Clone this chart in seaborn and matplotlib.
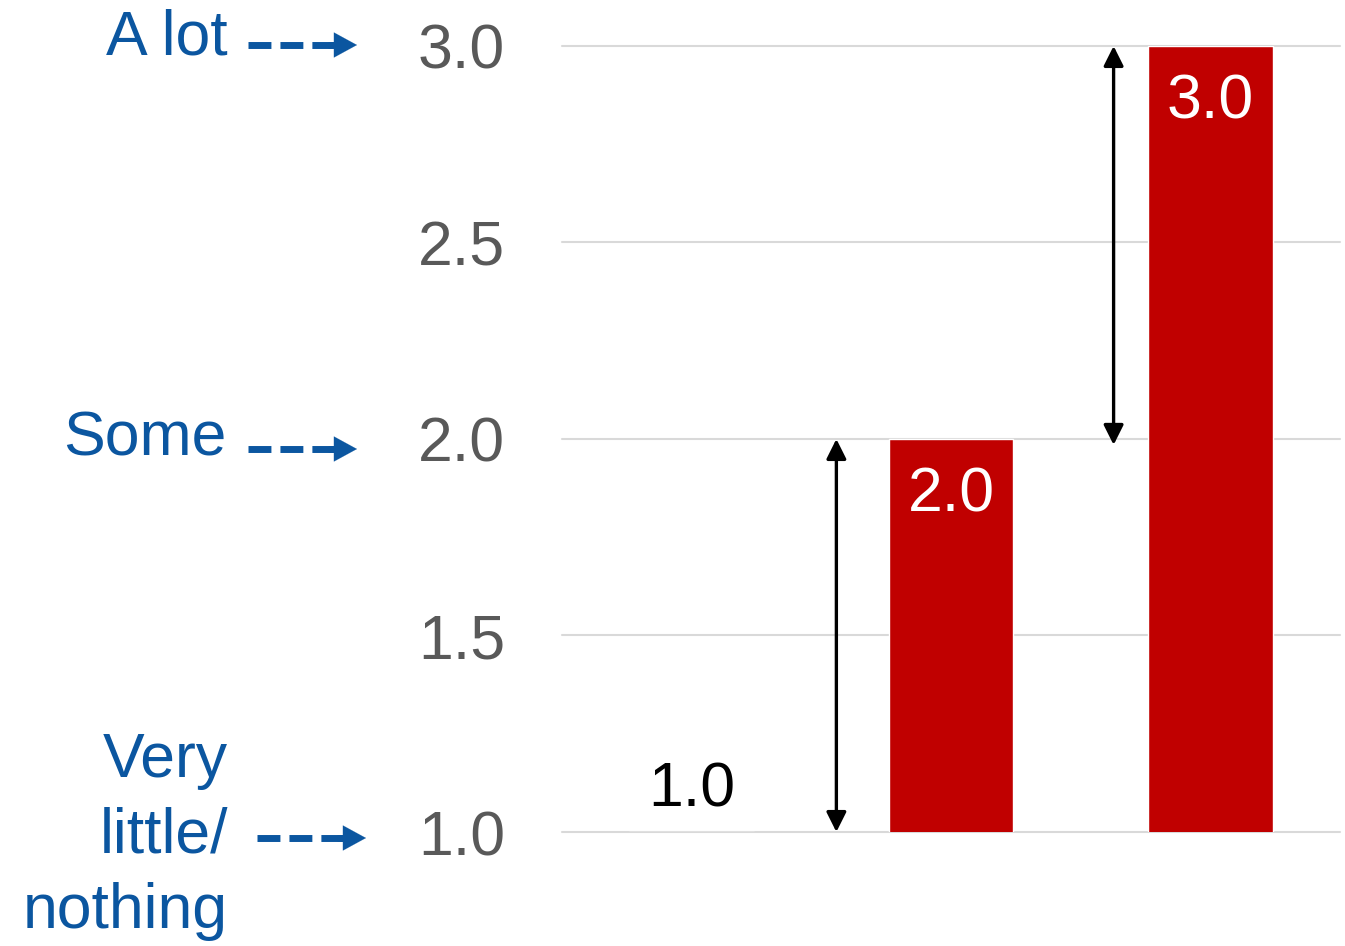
import matplotlib
matplotlib.use("Agg")
import matplotlib.pyplot as plt
import seaborn as sns
import pandas as pd
from matplotlib.lines import Line2D

# ---- data ----
categories = ["Baseline", "Group A", "Group B"]
values = [1.0, 2.0, 3.0]
y_ticks = [1.0, 1.5, 2.0, 2.5, 3.0]
scale_labels = ["Very\nlittle/\nnothing", "Some", "A lot"]
scale_levels = [1.0, 2.0, 3.0]

W, H = 1345, 946
sns.set_theme(style="white")
plt.rcParams["font.family"] = ["Liberation Sans", "DejaVu Sans"]

fig = plt.figure(figsize=(W / 100, H / 100), dpi=100)
ax = fig.add_axes([562 / W, 1 - 832 / H, (1340 - 562) / W, (832 - 46) / H])

df = pd.DataFrame({"cat": categories, "val": values})
sns.barplot(data=df, x="cat", y="val", color="#C00000", saturation=1,
            width=0.48, ax=ax, zorder=3)
ax.set_ylim(1, 3)
ax.set_yticks(y_ticks)
ax.set_yticklabels([f"{v:.1f}" for v in y_ticks], fontsize=45, color="#595959")
ax.tick_params(axis="y", length=0, pad=41)
ax.set_xticks([])
ax.set_xlabel("")
ax.set_ylabel("")
for s in ax.spines.values():
    s.set_visible(False)
ax.yaxis.grid(True, color="#D9D9D9", linewidth=1.5, zorder=0)
ax.set_axisbelow(True)
for gl in ax.get_ygridlines():
    gl.set_clip_on(False)

# bar value labels
for i, v in enumerate(values):
    if v > 1.0:
        ax.text(i, v - 0.143, f"{v:.1f}", ha="center", va="center",
                fontsize=45, color="white", zorder=5)
    else:
        ax.text(i, v + 0.107, f"{v:.1f}", ha="center", va="center",
                fontsize=45, color="black", zorder=5)

# black double-headed arrows showing differences
arrow_kw = dict(arrowstyle="<|-|>,head_length=0.6,head_width=0.3",
                mutation_scale=20, color="black", lw=2.4,
                shrinkA=0, shrinkB=0)
ax.annotate("", xy=(0.558, values[1]), xytext=(0.558, values[0]),
            arrowprops=arrow_kw, annotation_clip=False)
ax.annotate("", xy=(1.627, values[2]), xytext=(1.627, values[1] - 0.015),
            arrowprops=arrow_kw, annotation_clip=False)

# left scale labels with dashed blue arrows
blue = "#0B56A0"
label_pos = {  # text center y, text right x, arrow y, arrow x start, arrow x end
    "A lot": (38, 228, 45, 248, 357),
    "Some": (439, 227, 449, 248, 357),
    "Very\nlittle/\nnothing": (836, 228, 838, 257, 366),
}
for lab in scale_labels:
    ty, tx, ay, x0, x1 = label_pos[lab]
    fig.text(tx / W, 1 - ty / H, lab, ha="right", va="center", fontsize=45,
             color=blue, linespacing=1.36, multialignment="right")
    head_start = x1 - 23
    fig.add_artist(Line2D([x0 / W, head_start / W], [1 - ay / H, 1 - ay / H],
                          transform=fig.transFigure, color=blue, lw=5,
                          dashes=(3.3, 1.3), solid_capstyle="butt",
                          dash_capstyle="butt"))
    fig.add_artist(Line2D([(head_start - 6) / W, head_start / W],
                          [1 - ay / H, 1 - ay / H], transform=fig.transFigure,
                          color=blue, lw=5, solid_capstyle="butt"))
    ax.annotate("", xy=(x1, H - ay), xytext=(head_start, H - ay),
                xycoords="figure pixels", textcoords="figure pixels",
                arrowprops=dict(arrowstyle="-|>,head_length=1.65,head_width=0.9",
                                mutation_scale=10, color=blue, lw=0.1,
                                shrinkA=0, shrinkB=0),
                annotation_clip=False)

fig.savefig("out.png", dpi=100)
